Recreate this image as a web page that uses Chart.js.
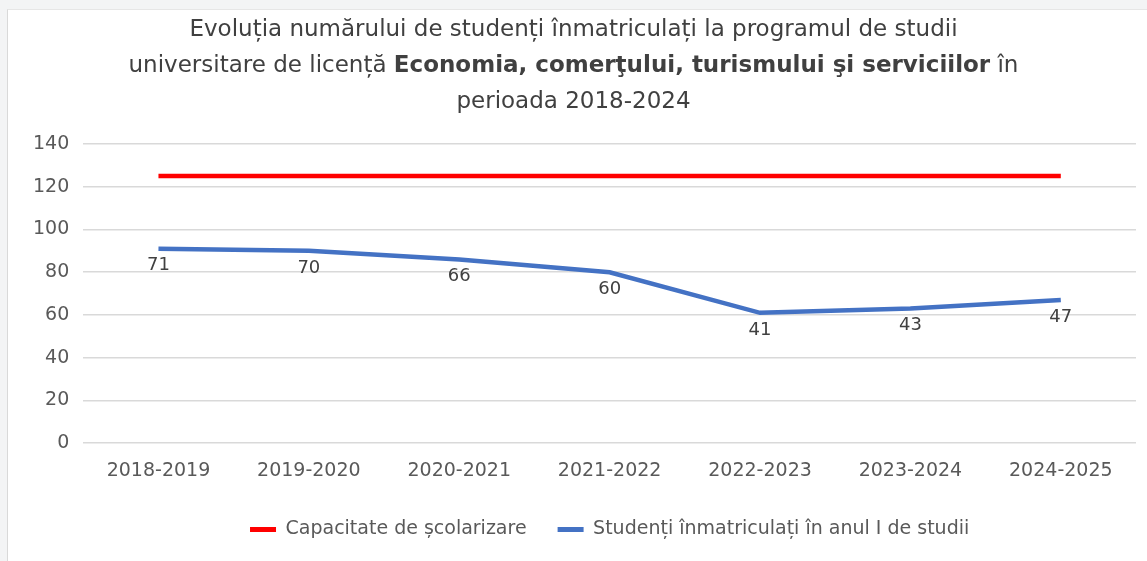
<!DOCTYPE html>
<html>
<head>
<meta charset="utf-8">
<script src="https://cdn.jsdelivr.net/npm/chart.js@4.4.1/dist/chart.umd.min.js"></script>
<style>
  html, body { margin: 0; padding: 0; background: #fff; }
  #wrap { position: relative; width: 1147px; height: 561px; overflow: hidden; background: #f3f4f5; }
  #frame {
    position: absolute; left: 7px; top: 9px; width: 1150px; height: 560px;
    background: #fff; border-left: 1px solid #d9d9d9; border-top: 1px solid #e6e6e6;
  }
  #title {
    position: absolute; left: 0; top: 10px; width: 1147px; text-align: center;
    font-family: "DejaVu Sans", sans-serif; font-size: 23px; line-height: 36px; color: #404040;
  }
  #title b { font-weight: bold; }
  #box { position: absolute; left: 0; top: 0; width: 1147px; height: 561px; }
</style>
</head>
<body>
<div id="wrap">
  <div id="frame"></div>
  <div id="box"><canvas id="chart"></canvas></div>
  <div id="title">Evoluția numărului de studenți înmatriculați la programul de studii<br>universitare de licență <b>Economia, comerţului, turismului şi serviciilor</b> în<br>perioada 2018-2024</div>
</div>
<script>
// data
const years = ['2018-2019', '2019-2020', '2020-2021', '2021-2022', '2022-2023', '2023-2024', '2024-2025'];
const capacity = [125, 125, 125, 125, 125, 125, 125];
const enrolled = [91, 90, 86, 80, 61, 63, 67];          // where the blue line sits
const enrolledLabels = ['71', '70', '66', '60', '41', '43', '47']; // numbers printed under it

const font = 'DejaVu Sans';
const grey = '#595959';

// simple data labels under the blue points (no datalabels plugin available)
const pointLabels = {
    id: 'pointLabels',
    afterDatasetsDraw(chart) {
        const ctx = chart.ctx;
        const meta = chart.getDatasetMeta(1);
        ctx.save();
        ctx.font = '18px "' + font + '"';
        ctx.fillStyle = '#404040';
        ctx.textAlign = 'center';
        ctx.textBaseline = 'middle';
        meta.data.forEach((pt, i) => {
            ctx.fillText(enrolledLabels[i], pt.x, pt.y + 17);
        });
        ctx.restore();
    }
};

new Chart(document.getElementById('chart'), {
    type: 'line',
    data: {
        labels: years,
        datasets: [{
            label: 'Capacitate de școlarizare',
            data: capacity,
            borderColor: '#ff0000',
            backgroundColor: '#ff0000',
            borderWidth: 4.5,
            pointRadius: 0,
            tension: 0
        }, {
            label: 'Studenți înmatriculați în anul I de studii',
            data: enrolled,
            borderColor: '#4472c4',
            backgroundColor: '#4472c4',
            borderWidth: 4.5,
            pointRadius: 0,
            tension: 0
        }]
    },
    options: {
        responsive: true,
        maintainAspectRatio: false,
        animation: false,
        layout: { padding: { top: 144, left: 19, right: 11, bottom: 12 } },
        scales: {
            x: {
                offset: true,
                grid: { display: false, drawTicks: false },
                border: { display: false },
                ticks: { color: grey, font: { family: font, size: 19 }, padding: 16, maxRotation: 0 },
                // tighten the gap between the year labels and the legend
                afterFit(scale) { scale.height -= 9; }
            },
            y: {
                min: 0, max: 140,
                ticks: { stepSize: 20, color: grey, font: { family: font, size: 19 }, padding: 14 },
                grid: { color: '#d9d9d9', lineWidth: 1.5, drawTicks: false },
                border: { display: false }
            }
        },
        plugins: {
            legend: {
                position: 'bottom',
                fullSize: false,
                labels: {
                    color: grey,
                    font: { family: font, size: 19 },
                    boxWidth: 26,
                    boxHeight: 5,
                    padding: 31,
                    generateLabels(chart) {
                        return Chart.defaults.plugins.legend.labels.generateLabels(chart).map(l => {
                            l.lineWidth = 0;
                            return l;
                        });
                    }
                }
            },
            tooltip: { enabled: false }
        }
    },
    plugins: [pointLabels]
});
</script>
</body>
</html>
